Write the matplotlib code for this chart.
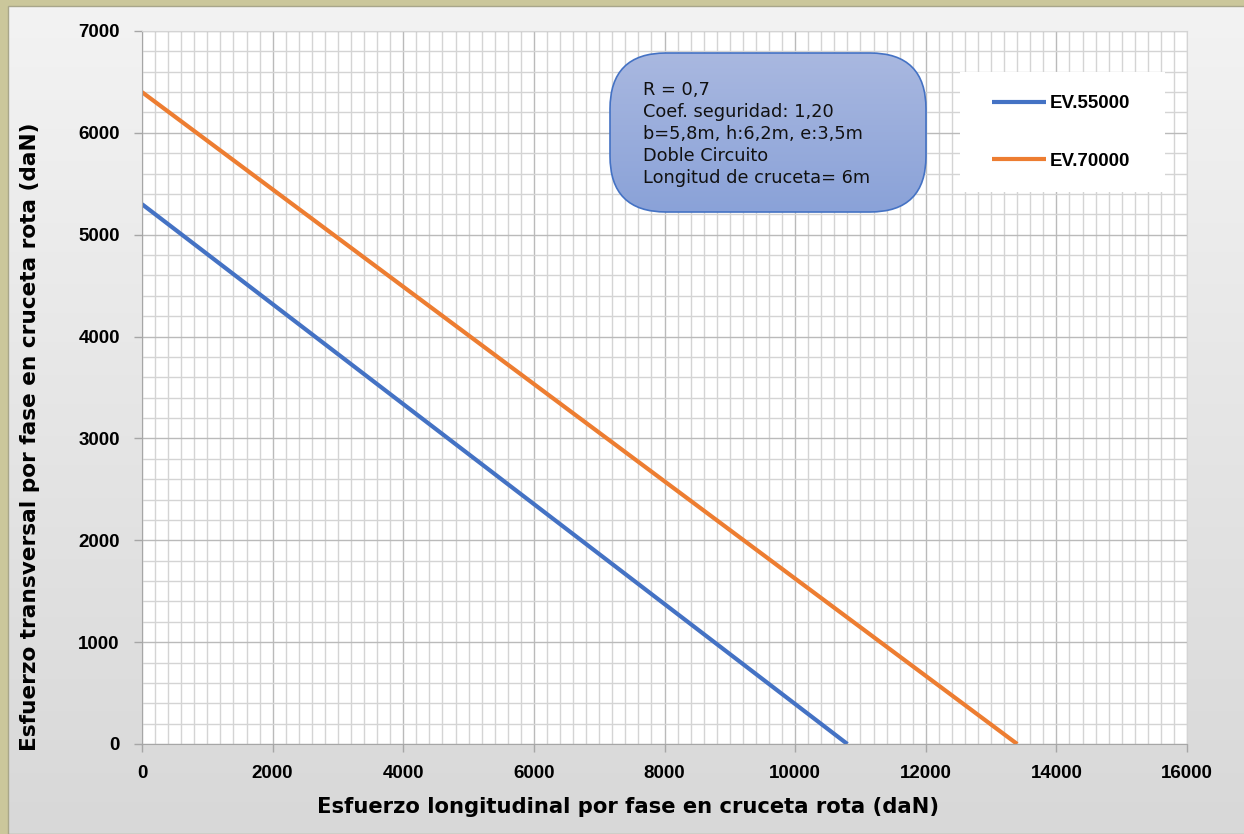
import numpy as np
import matplotlib
matplotlib.use("Agg")
import matplotlib.pyplot as plt
from matplotlib.patches import FancyBboxPatch, Rectangle
from matplotlib.ticker import MultipleLocator
from matplotlib.colors import LinearSegmentedColormap

# Data
series_names = ["EV.55000", "EV.70000"]
x_55000 = [0, 10800]
y_55000 = [5300, 0]
x_70000 = [0, 13400]
y_70000 = [6400, 0]
colors = ["#4472c4", "#ed7d31"]
info_lines = ["R = 0,7", "Coef. seguridad: 1,20", "b=5,8m, h:6,2m, e:3,5m",
              "Doble Circuito", "Longitud de cruceta= 6m"]
xlabel = "Esfuerzo longitudinal por fase en cruceta rota (daN)"
ylabel = "Esfuerzo transversal por fase en cruceta rota (daN)"

W, H = 1244, 834
fig = plt.figure(figsize=(W/100, H/100), dpi=100)
fig.patch.set_facecolor("#cbc79b")

# chart area panel with gradient
bg = fig.add_axes([8/W, 0, 1 - 8/W, 1 - 6/H])
grad = np.linspace(0, 1, 256).reshape(-1, 1)
cmap = LinearSegmentedColormap.from_list("g", ["#f3f3f3", "#d8d8d8"])
bg.imshow(grad, aspect="auto", cmap=cmap, extent=[0, 1, 1, 0])
bg.set_axis_off()
bg.set_zorder(0)
fig.add_artist(Rectangle((8/W, 0), 1, 1 - 6/H, transform=fig.transFigure,
                         fill=False, edgecolor="#a8a68a", lw=1.0, zorder=0.5))

x0, x1 = 142, 1187
y0, y1 = 744, 31
ax = fig.add_axes([x0/W, 1 - y0/H, (x1 - x0)/W, (y0 - y1)/H])
ax.set_zorder(1)
ax.set_facecolor("white")
ax.set_xlim(0, 16000)
ax.set_ylim(0, 7000)
ax.xaxis.set_major_locator(MultipleLocator(2000))
ax.xaxis.set_minor_locator(MultipleLocator(200))
ax.yaxis.set_major_locator(MultipleLocator(1000))
ax.yaxis.set_minor_locator(MultipleLocator(200))
ax.grid(which="minor", color="#d4d4d4", lw=1.0)
ax.grid(which="major", color="#bababa", lw=1.0)
ax.set_axisbelow(True)
for s in ["top", "right"]:
    ax.spines[s].set_color("#d4d4d4")
for s in ["left", "bottom"]:
    ax.spines[s].set_color("#a6a6a6")
ax.tick_params(which="major", length=6, color="#a6a6a6", width=1,
               labelsize=13.5)
ax.tick_params(which="minor", length=0)
for lab in ax.get_xticklabels() + ax.get_yticklabels():
    lab.set_fontweight("bold")
    lab.set_family("Liberation Sans")
ax.tick_params(axis="x", pad=9)
ax.tick_params(axis="y", pad=10)

l1, = ax.plot(x_55000, y_55000, color=colors[0], lw=3, solid_capstyle="butt")
l2, = ax.plot(x_70000, y_70000, color=colors[1], lw=3, solid_capstyle="butt")

fig.text(628/W, 1 - 807/H, xlabel, fontsize=15.2, fontweight="bold",
         family="DejaVu Sans", ha="center", va="center")
fig.text(30/W, 1 - 437/H, ylabel, fontsize=15.6, fontweight="bold",
         family="DejaVu Sans", ha="center", va="center", rotation=90)

# info box (rounded, gradient blue)
bx0, by0, bx1, by1 = 610, 53, 926, 212
box = FancyBboxPatch((bx0/W, 1 - by1/H), (bx1 - bx0)/W, (by1 - by0)/H,
                     boxstyle="round,pad=0,rounding_size=0.045",
                     transform=fig.transFigure, facecolor="none",
                     edgecolor="#4472c4", lw=1.2, zorder=5,
                     mutation_aspect=W/H)
fig.add_artist(box)
gax = fig.add_axes([bx0/W, 1 - by1/H, (bx1 - bx0)/W, (by1 - by0)/H])
gax.set_zorder(4)
gcmap = LinearSegmentedColormap.from_list("b", ["#a9b8e0", "#8aa2d8"])
im = gax.imshow(grad, aspect="auto", cmap=gcmap, extent=[0, 1, 1, 0])
im.set_clip_path(box)
gax.set_axis_off()
fig.text(643/W, 1 - 134/H, "\n".join(info_lines), fontsize=12.8,
         family="DejaVu Sans", va="center", ha="left", linespacing=1.3,
         color="#111111", zorder=6)

# legend
fig.add_artist(Rectangle((960/W, 1 - 192/H), (1165 - 960)/W, 120/H,
                         transform=fig.transFigure, facecolor="white",
                         edgecolor="none", zorder=2))
leg = fig.legend([l1, l2], series_names, loc="upper left",
                 bbox_to_anchor=(992/W, 1 - 95/H),
                 frameon=False,
                 prop={"weight": "bold", "size": 13.5, "family": "Liberation Sans"},
                 handlelength=2.9, handletextpad=0.2, labelspacing=2.15,
                 borderpad=0, borderaxespad=0)
leg.set_zorder(7)

fig.savefig("out.png", dpi=100, facecolor=fig.get_facecolor())
